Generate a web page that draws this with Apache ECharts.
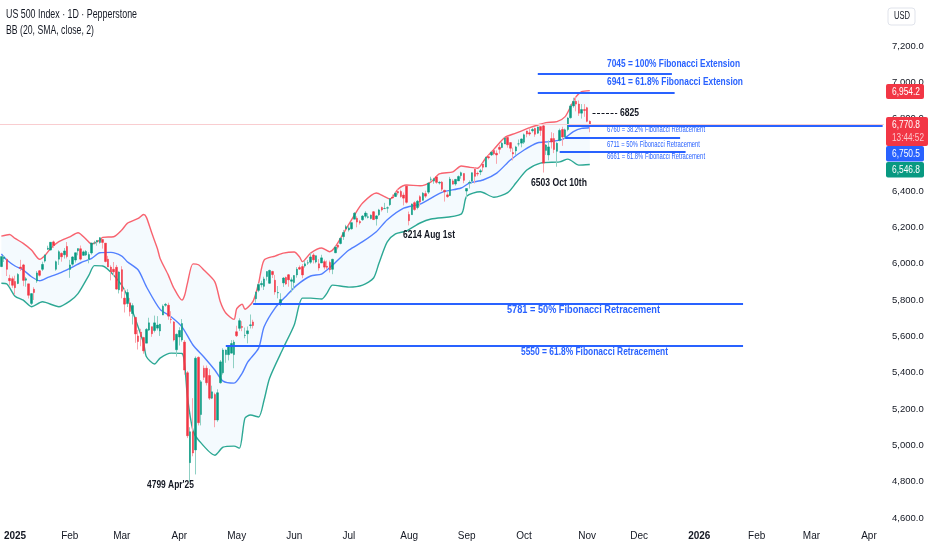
<!DOCTYPE html>
<html lang="en">
<head>
<meta charset="UTF-8">
<title>US 500 Index</title>
<script src="https://cdn.jsdelivr.net/npm/echarts@6/dist/echarts.min.js"></script>
<style>
  html, body { margin: 0; background: #fff; }
  #chart { width: 932px; height: 550px; }
</style>
</head>
<body>
<div id="chart"></div>
<script>
// daily bars, first bar is late Dec 2024
var opens = [5985,6030,6025,5920,5918,5903,5892,5982,5994,5910,5890,5782,5860,5905,5962,5970,6015,6081,6076,6121,5970,6026,6058,6050,6096,
  5969,5998,6021,6072,6083,6047,6049,6025,6060,6115,6121,6118,6134,6114,6026,5982,5970,5981,5857,
  5968,5811,5781,5785,5726,5705,5603,5624,5594,5563,5635,5654,5633,5646,5630,5718,5772,5772,5695,5680,5527,
  5597,5581,5569,5400,4905,5075,4975,5485,5170,5425,5425,5385,5260,5280,5140,5345,5400,5500,5500,5508,5500,
  5626,5645,5655,5605,5615,5660,5680,5808,5854,5885,5876,5930,5893,5958,5910,5840,5782,5895,5925,5940,5904,
  5897,5939,5980,5985,5988,6004,6009,6049,6010,6000,6005,6012,5987,6008,5970,6061,6104,6112,6150,6193,
  6187,6193,6246,6251,6233,6243,6262,6256,6250,6287,6248,6270,6311,6304,6307,6326,6368,6371,6399,6399,6379,6428,
  6272,6271,6337,6310,6370,6350,6387,6395,6466,6456,6479,6445,6450,6405,6380,6376,6457,6440,6457,6486,6498,
  6401,6445,6456,6521,6498,6506,6550,6533,6590,6600,6625,6609,6642,6641,6660,6696,6668,6613,6622,6661,6665,
  6670,6732,6722,6733,6746,6720,6756,6760,6625,6600,6690,6690,6620,6680,6740,6700,
  6740,6805,6870,6895,6880,6830,6850,6860,6785];
var closes = [6040,6037,5970,5907,5882,5869,5942,5975,5909,5918,5827,5836,5842,5950,5937,5997,6049,6086,6119,6101,6012,6067,6039,6071,6040,
  5994,6038,6061,6084,6026,6066,6068,6051,6115,6115,6129,6144,6118,6013,5983,5955,5956,5861,5955,
  5849,5778,5842,5738,5770,5614,5572,5599,5521,5639,5675,5615,5675,5663,5667,5767,5777,5712,5693,5581,5612,
  5633,5671,5415,5053,5075,4958,5480,5125,5350,5375,5345,5260,5295,5140,5290,5460,5525,5525,5550,5561,5569,
  5604,5687,5650,5607,5631,5664,5660,5844,5886,5892,5917,5958,5964,5941,5845,5842,5803,5922,5889,5912,5912,
  5936,5970,5971,5939,6000,6006,6038,6022,6045,5977,6033,5982,5981,5968,6025,6092,6092,6141,6173,6205,
  6198,6227,6279,6230,6226,6263,6280,6259,6268,6244,6264,6297,6297,6305,6309,6359,6363,6389,6390,6371,6362,6339,
  6238,6330,6299,6345,6340,6389,6373,6445,6467,6469,6449,6449,6411,6396,6370,6467,6439,6465,6481,6502,6460,
  6415,6448,6502,6482,6495,6513,6532,6587,6584,6615,6606,6600,6631,6664,6693,6656,6637,6605,6644,6661,6688,
  6711,6715,6715,6740,6714,6754,6735,6555,6654,6644,6671,6630,6664,6735,6699,6738,
  6803,6870,6895,6880,6830,6850,6845,6785,6771];
var lows = [5982,6010,5933,5880,5868,5829,5888,5960,5877,5874,5809,5773,5801,5895,5930,5960,6007,6076,6075,6088,5962,5994,6012,6029,6030,
  5923,5990,6007,6047,6019,6044,6043,6003,6051,6107,6100,6111,6084,6008,5982,5909,5933,5858,5837,
  5810,5732,5762,5711,5666,5565,5528,5546,5505,5563,5630,5598,5622,5633,5603,5718,5764,5692,5672,5573,5489,
  5550,5571,5390,5040,4799,4940,4840,5110,5110,5360,5330,5250,5255,5100,5130,5340,5390,5455,5468,5506,5425,
  5597,5631,5629,5590,5562,5644,5644,5786,5844,5870,5856,5908,5890,5922,5830,5810,5767,5873,5883,5874,5844,
  5861,5924,5966,5921,5979,5994,6000,6002,6003,5963,6004,5969,5971,5952,5943,6059,6080,6107,6132,6193,
  6178,6188,6246,6201,6216,6237,6251,6250,6245,6241,6211,6263,6288,6303,6281,6318,6360,6368,6378,6364,6322,6332,
  6212,6271,6292,6300,6316,6348,6363,6385,6454,6441,6441,6437,6401,6343,6364,6374,6438,6431,6457,6469,6444,
  6361,6415,6442,6443,6483,6489,6508,6533,6575,6594,6598,6551,6607,6637,6660,6640,6617,6570,6600,6647,6642,
  6660,6697,6705,6723,6700,6716,6705,6503,6600,6570,6635,6610,6535,6675,6650,6690,
  6730,6800,6860,6840,6815,6800,6810,6780,6725];
var highs = [6040,6048,6030,5940,5930,5935,5949,6022,6000,5928,5890,5838,5871,5960,5965,6012,6051,6100,6119,6128,6018,6075,6063,6087,6120,
  6022,6042,6062,6084,6101,6073,6076,6064,6116,6127,6129,6147,6134,6114,6044,5992,6010,5994,5959,
  5987,5866,5860,5812,5783,5705,5636,5642,5598,5646,5703,5654,5715,5712,5670,5776,5785,5786,5739,5685,5616,
  5651,5696,5580,5410,5100,5260,5490,5490,5360,5440,5440,5420,5329,5290,5309,5470,5535,5528,5553,5580,5581,
  5659,5700,5684,5649,5655,5721,5692,5847,5895,5907,5929,5958,5968,5962,5939,5878,5838,5927,5930,5944,5925,
  5937,5982,5991,5999,6016,6021,6059,6059,6045,6026,6050,6023,6018,6018,6028,6101,6108,6146,6187,6215,
  6210,6227,6285,6262,6242,6269,6290,6279,6272,6291,6268,6303,6315,6336,6316,6360,6382,6395,6410,6409,6393,6428,
  6288,6332,6345,6352,6378,6395,6403,6449,6480,6474,6481,6455,6456,6408,6394,6479,6466,6468,6487,6508,6498,
  6416,6459,6503,6532,6508,6523,6555,6590,6600,6619,6627,6625,6656,6671,6697,6700,6670,6640,6650,6685,6690,
  6718,6733,6750,6749,6750,6756,6757,6765,6660,6680,6725,6720,6670,6745,6755,6745,
  6808,6880,6915,6925,6900,6880,6880,6865,6790];

// bollinger readings: bar number and value for each line
var upperBars = [0,3,5,8,11,14,16,18,21,25,28,31,33,36,37,41,44,46,50,52,53,55,57,58,61,63,66,67,68,70,72,74,78,80,82,85,86,88,89,92,94,96,100,103,107,109,110,113,117,120,122,125,129,132,137,140,142,145,148,153,157,160,165,168,171,174,177,180,184,188,193,196,199,203,206,208,210,212,215];
var upperValues = [6153,6162,6140,6113,6076,6025,6048,6085,6122,6149,6171,6135,6109,6131,6146,6149,6186,6223,6250,6272,6256,6168,6085,6030,5938,5867,5800,5828,5894,6000,5995,5966,5901,5791,5729,5694,5753,5778,5750,5795,5894,6021,6043,6059,6065,6037,6012,6059,6087,6067,6094,6169,6269,6335,6390,6370,6357,6412,6434,6430,6452,6495,6507,6539,6532,6527,6583,6632,6697,6720,6750,6765,6778,6783,6811,6866,6921,6948,6954];
var midBars = [0,2,5,8,11,14,17,21,25,29,33,36,40,44,46,50,53,58,62,66,70,74,78,81,85,88,90,94,96,100,104,108,113,117,121,127,132,137,141,147,153,161,168,171,176,181,186,191,196,200,205,209,212,215];
var midValues = [6054,6021,5988,5966,5929,5907,5925,5947,5975,6006,6030,6061,6063,6043,6012,5966,5874,5749,5709,5653,5553,5487,5415,5354,5343,5398,5459,5536,5653,5756,5822,5883,5933,5944,5993,6076,6122,6177,6243,6307,6329,6394,6418,6445,6462,6500,6572,6627,6667,6673,6686,6728,6746,6750];
var lowerBars = [0,2,5,8,11,15,21,25,28,32,34,37,41,45,48,52,53,56,58,62,66,67,68,70,72,78,81,85,87,89,91,94,96,98,103,107,110,113,117,119,121,127,132,136,138,141,144,148,153,157,168,170,175,180,185,188,192,197,204,207,211,215];
var lowerValues = [5893,5889,5822,5800,5764,5791,5764,5795,5836,5938,5990,5988,5938,5856,5736,5562,5488,5448,5481,5508,5506,5440,5266,5082,5030,4946,4990,4996,4985,5150,5167,5156,5250,5370,5536,5663,5811,5811,5806,5839,5883,5872,5883,5922,6005,6121,6165,6181,6225,6247,6274,6372,6397,6367,6392,6445,6517,6555,6562,6577,6544,6547];

// fib level lines
var fibStart = [196,196,207,206,204,92,82];
var fibEnd = [245,246,322,248,250,271,271];
var fibValue = [7046,6941,6760,6695,6616,5780,5547];
var dashStart = 216, dashEnd = 225, dashValue = 6831;
var lastPrice = 6770.8;

var barCount = 323;
var monthBars = [5,25,44,65,86,107,127,149,170,191,214,233,255,276,296,317];
var monthNames = ['2025','Feb','Mar','Apr','May','Jun','Jul','Aug','Sep','Oct','Nov','Dec','2026','Feb','Mar','Apr'];
var yTicks = [4600,7200,200];

var categories = [];
for (var i = 0; i < barCount; i++) categories.push(i);

var candles = opens.map(function (o, i) { return [o, closes[i], lows[i], highs[i]]; });
// same bars without wicks, drawn on top so the bodies stay saturated
var bodies = opens.map(function (o, i) {
  return [o, closes[i], Math.min(o, closes[i]), Math.max(o, closes[i])];
});

function pairs(bars, values) {
  return bars.map(function (b, i) { return [b, values[i]]; });
}

var font = '"Liberation Sans", sans-serif';
var blue = '#2962FF', red = '#F23645', green = '#089981', ink = '#131722';
var measure = document.createElement('canvas').getContext('2d');

// text squeezed to the width it has in the picture
function note(x, y, text, size, color, weight, width) {
  var f = (weight || 'normal') + ' ' + size + 'px ' + font;
  measure.font = f;
  return {
    type: 'text', x: x, y: y, z: 50, scaleX: width / measure.measureText(text).width,
    style: { text: text, font: f, fill: color, textVerticalAlign: 'middle' }
  };
}
function tag(x, y, w, h, color) {
  return { type: 'rect', shape: { x: x, y: y, width: w, height: h, r: 2 }, z: 40, style: { fill: color } };
}

var graphics = [
  note(6, 15, 'US 500 Index \u00b7 1D \u00b7 Pepperstone', 12.5, ink, 'normal', 131),
  note(6, 31, 'BB (20, SMA, close, 2)', 12, ink, 'normal', 88),

  note(607, 64, '7045 = 100% Fibonacci Extension', 11.5, blue, 'bold', 133),
  note(607, 82, '6941 = 61.8% Fibonacci Extension', 11.5, blue, 'bold', 136),
  note(607, 130, '6760 = 38.2% Fibonacci Retracement', 8.5, blue, 'normal', 98),
  note(607, 145, '6711 = 50% Fibonacci Retracement', 8.5, blue, 'normal', 93),
  note(607, 157, '6661 = 61.8% Fibonacci Retracement', 8.5, blue, 'normal', 98),
  note(507, 310, '5781 = 50% Fibonacci Retracement', 11.5, blue, 'bold', 153),
  note(521, 352, '5550 = 61.8% Fibonacci Retracement', 11.5, blue, 'bold', 147),

  note(620, 113, '6825', 11.5, ink, 'bold', 19),
  note(531, 183, '6503 Oct 10th', 11.5, ink, 'bold', 56),
  note(403, 235, '6214 Aug 1st', 11.5, ink, 'bold', 52),
  note(147, 485, "4799 Apr'25", 11, ink, 'bold', 47),

  { type: 'rect', shape: { x: 888, y: 8, width: 27, height: 17, r: 3 }, z: 40, style: { fill: '#fff', stroke: '#e0e3eb', lineWidth: 1 } },
  note(894, 16.5, 'USD', 10, ink, 'normal', 16),

  tag(886, 84, 38, 15, red),
  note(892, 92, '6,954.2', 11, '#fff', 'normal', 28),
  tag(886, 117, 42, 29, red),
  note(892, 124.5, '6,770.8', 11, '#fff', 'normal', 28),
  note(892, 138, '13:44:52', 11, '#fbc4ca', 'normal', 32),
  tag(886, 146, 38, 15.5, blue),
  note(892, 154, '6,750.5', 11, '#fff', 'normal', 28),
  tag(886, 162, 38, 15.5, green),
  note(892, 170, '6,546.8', 11, '#fff', 'normal', 28)
];

var fibLines = fibValue.map(function (v, i) {
  return [{ coord: [fibStart[i], v] }, { coord: [fibEnd[i], v] }];
});

var chart = echarts.init(document.getElementById('chart'), null, { renderer: 'canvas' });

chart.setOption({
  animation: false,
  backgroundColor: '#fff',
  grid: { left: 0, right: 48, top: 46, bottom: 32 },
  xAxis: {
    type: 'category',
    data: categories,
    boundaryGap: true,
    axisLine: { show: false },
    axisTick: { show: false },
    splitLine: { show: false },
    axisLabel: {
      margin: 13,
      fontFamily: font,
      fontSize: 10,
      color: ink,
      hideOverlap: false,
      interval: function (index) { return monthBars.indexOf(index) >= 0; },
      formatter: function (value, index) {
        var name = monthNames[monthBars.indexOf(index)];
        return name && name.length === 4 ? '{b|' + name + '}' : name;
      },
      rich: { b: { fontWeight: 'bold', fontFamily: font, fontSize: 10, color: ink } }
    }
  },
  yAxis: {
    type: 'value',
    position: 'right',
    min: yTicks[0],
    max: yTicks[1],
    interval: yTicks[2],
    axisLine: { show: false },
    axisTick: { show: false },
    splitLine: { show: false },
    axisLabel: {
      margin: 8,
      fontFamily: font,
      fontSize: 9.5,
      color: ink,
      formatter: function (v) { return v.toLocaleString('en-US', { minimumFractionDigits: 1 }); }
    }
  },
  series: [
    {
      type: 'custom',
      silent: true,
      z: 1,
      data: [[0, lowerValues[0]]],
      renderItem: function (params, api) {
        var pts = [];
        upperBars.forEach(function (b, i) { pts.push(api.coord([b, upperValues[i]])); });
        for (var i = lowerBars.length - 1; i >= 0; i--) pts.push(api.coord([lowerBars[i], lowerValues[i]]));
        return { type: 'polygon', shape: { points: pts }, style: { fill: 'rgba(33,150,243,0.05)' } };
      }
    },
    { type: 'line', z: 3, data: pairs(upperBars, upperValues), symbol: 'none', smooth: 0.25, lineStyle: { color: '#F7525F', width: 1.4, opacity: 0.9 } },
    { type: 'line', z: 3, data: pairs(midBars, midValues), symbol: 'none', smooth: 0.25, lineStyle: { color: blue, width: 1.4, opacity: 0.8 } },
    { type: 'line', z: 3, data: pairs(lowerBars, lowerValues), symbol: 'none', smooth: 0.25, lineStyle: { color: green, width: 1.4, opacity: 0.85 } },
    {
      type: 'candlestick',
      z: 4,
      data: candles,
      barWidth: 1,
      itemStyle: { color: '#8fd0c4', color0: '#f9a5ad', borderColor: '#8fd0c4', borderColor0: '#f9a5ad', borderWidth: 1 }
    },
    {
      type: 'candlestick',
      z: 4,
      data: bodies,
      barWidth: 2,
      itemStyle: { color: green, color0: red, borderColor: green, borderColor0: red, borderWidth: 0.5 }
    },
    {
      type: 'line',
      z: 5,
      data: [],
      symbol: 'none',
      markLine: {
        silent: true,
        symbol: 'none',
        label: { show: false },
        animation: false,
        lineStyle: { type: 'solid', color: blue, width: 2 },
        data: fibLines
      }
    },
    {
      type: 'line',
      z: 2,
      data: [],
      symbol: 'none',
      markLine: {
        silent: true,
        symbol: 'none',
        label: { show: false },
        animation: false,
        data: [
          { yAxis: lastPrice, lineStyle: { type: 'solid', color: '#f9cdd0', width: 1 } },
          [{ coord: [dashStart, dashValue], lineStyle: { type: [3, 1.5], color: ink, width: 1 } }, { coord: [dashEnd, dashValue] }]
        ]
      }
    }
  ],
  graphic: graphics
});
</script>
</body>
</html>
